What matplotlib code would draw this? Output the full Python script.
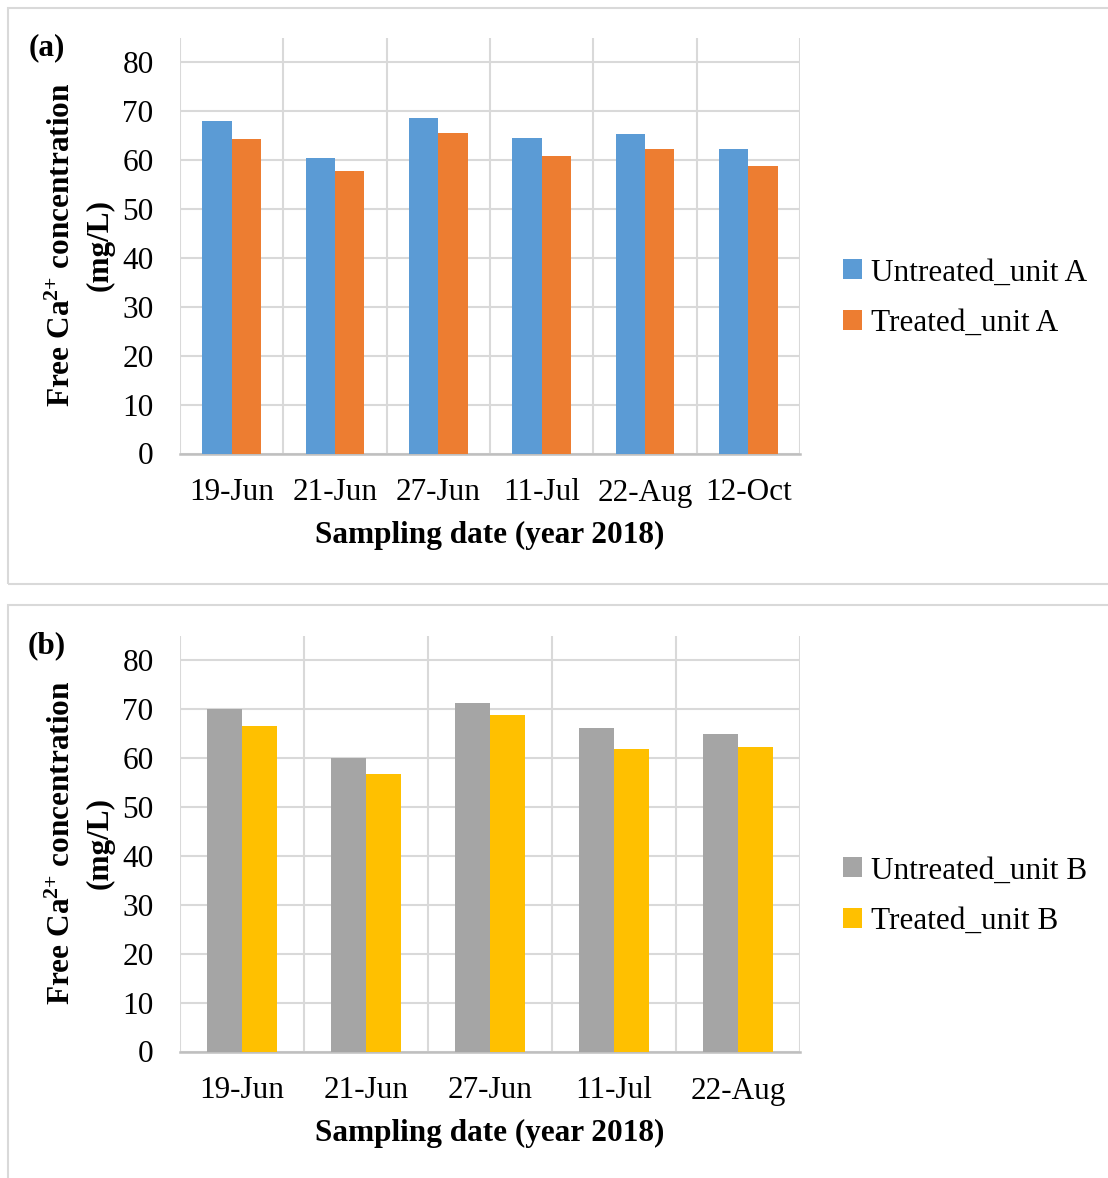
import numpy as np
import matplotlib
matplotlib.use("Agg")
import matplotlib.pyplot as plt
from matplotlib.patches import Rectangle

plt.rcParams["font.family"] = ["Liberation Serif", "DejaVu Serif"]
plt.rcParams["mathtext.fontset"] = "custom"
plt.rcParams["mathtext.rm"] = "Liberation Serif"
plt.rcParams["mathtext.bf"] = "Liberation Serif:bold"
plt.rcParams["mathtext.default"] = "bf"

# Panel (a): unit A
dates_a = ["19-Jun", "21-Jun", "27-Jun", "11-Jul", "22-Aug", "12-Oct"]
untreated_a = [67.9, 60.4, 68.5, 64.4, 65.3, 62.1]
treated_a = [64.2, 57.7, 65.4, 60.7, 62.1, 58.7]

# Panel (b): unit B
dates_b = ["19-Jun", "21-Jun", "27-Jun", "11-Jul", "22-Aug"]
untreated_b = [69.8, 59.9, 71.1, 66.0, 64.9]
treated_b = [66.5, 56.7, 68.7, 61.8, 62.2]

W, H = 1108, 1178
FS = 22.5
GRID = "#D9D9D9"
AXIS = "#BFBFBF"
YLABEL = "Free Ca$^{2{+}}$ concentration"


def px_axes(fig, left, top, right, bottom):
    return fig.add_axes([left / W, 1 - bottom / H, (right - left) / W, (bottom - top) / H])


def panel(fig, top_px, tag, dates, untr, trt, c1, c2, lab1, lab2):
    ax = px_axes(fig, 180, top_px, 800, top_px + 415.5)
    n = len(dates)
    x = np.arange(n)
    w = 0.285
    ax.bar(x - w / 2, untr, w, color=c1, label=lab1, zorder=3)
    ax.bar(x + w / 2, trt, w, color=c2, label=lab2, zorder=3)
    ax.set_xlim(-0.5, n - 0.5)
    ax.set_ylim(0, 84.8)
    ax.set_yticks(np.arange(0, 81, 10))
    ax.set_xticks(x)
    ax.set_xticklabels(dates)
    ax.set_xticks(np.arange(-0.5, n, 1.0), minor=True)
    ax.grid(True, axis="y", color=GRID, lw=1.5, zorder=0)
    ax.grid(True, axis="x", which="minor", color=GRID, lw=1.5, zorder=0)
    for s in ["top", "right", "left"]:
        ax.spines[s].set_visible(False)
    ax.spines["bottom"].set_color(AXIS)
    ax.spines["bottom"].set_linewidth(1.8)
    ax.tick_params(axis="both", which="both", length=0, labelsize=FS)
    ax.tick_params(axis="y", pad=19)
    ax.tick_params(axis="x", pad=18)

    cy = top_px + 207
    fig.text(62 / W, 1 - cy / H, YLABEL, rotation=90,
             ha="center", va="center", fontsize=FS, fontweight="bold")
    fig.text(100 / W, 1 - cy / H, "(mg/L)", rotation=90,
             ha="center", va="center", fontsize=FS, fontweight="bold")
    fig.text(490 / W, 1 - (top_px + 497) / H, "Sampling date (year 2018)",
             ha="center", va="center", fontsize=FS, fontweight="bold")
    fig.text(47 / W, 1 - (top_px + 10) / H, tag, ha="center", va="center",
             fontsize=FS, fontweight="bold")

    fig.legend(handles=ax.containers, labels=[lab1, lab2],
               loc="center left", bbox_to_anchor=(815 / W, 1 - (top_px + 260) / H),
               frameon=False, fontsize=FS, handlelength=0.6, handleheight=0.6,
               handletextpad=0.3, labelspacing=0.68)
    return ax


fig = plt.figure(figsize=(W / 100, H / 100), dpi=100)
fig.patches.append(Rectangle((8 / W, 1 - 584 / H), 1110 / W, 576 / H,
                             transform=fig.transFigure, fill=False,
                             edgecolor=GRID, lw=1.5))
fig.patches.append(Rectangle((8 / W, -0.05), 1110 / W, 1 - 605 / H + 0.05,
                             transform=fig.transFigure, fill=False,
                             edgecolor=GRID, lw=1.5))

panel(fig, 38, "(a)", dates_a, untreated_a, treated_a,
      "#5B9BD5", "#ED7D31", "Untreated_unit A", "Treated_unit A")
panel(fig, 636, "(b)", dates_b, untreated_b, treated_b,
      "#A5A5A5", "#FFC000", "Untreated_unit B", "Treated_unit B")

fig.savefig("out.png", dpi=100)
